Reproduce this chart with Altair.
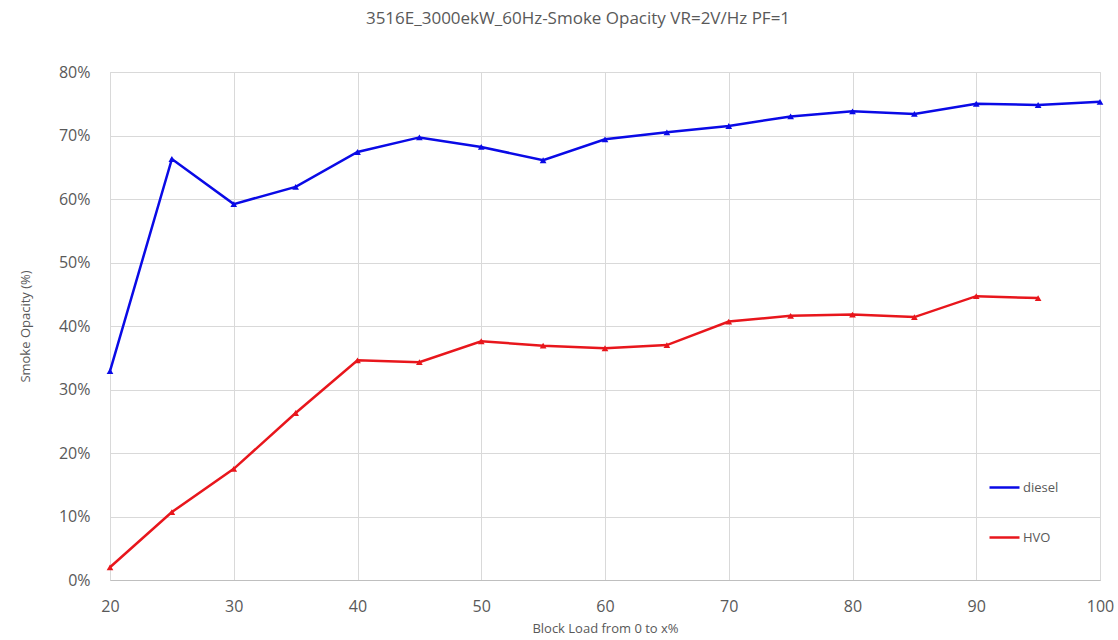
import altair as alt
import pandas as pd

loads = [20, 25, 30, 35, 40, 45, 50, 55, 60, 65, 70, 75, 80, 85, 90, 95, 100]
diesel = [32.9, 66.3, 59.2, 61.9, 67.4, 69.7, 68.2, 66.1, 69.4, 70.5, 71.5, 73.0, 73.8, 73.4, 75.0, 74.8, 75.3]
hvo_loads = [20, 25, 30, 35, 40, 45, 50, 55, 60, 65, 70, 75, 80, 85, 90, 95]
hvo = [2.0, 10.7, 17.5, 26.3, 34.6, 34.3, 37.6, 36.9, 36.5, 37.0, 40.7, 41.6, 41.8, 41.4, 44.7, 44.4]

series_names = ["diesel", "HVO"]
series_colors = ["#0a0ae6", "#e8161c"]

rows = []
for x, v in zip(loads, diesel):
    rows.append({"load": x, "opacity": v / 100, "series": "diesel"})
for x, v in zip(hvo_loads, hvo):
    rows.append({"load": x, "opacity": v / 100, "series": "HVO"})
df = pd.DataFrame(rows)

FONT = "Open Sans"
GREY = "#595959"

color = alt.Color(
    "series:N",
    scale=alt.Scale(domain=series_names, range=series_colors),
    legend=alt.Legend(
        title=None,
        orient="none",
        legendX=878,
        legendY=399,
        symbolType="stroke",
        symbolSize=900,
        symbolStrokeWidth=2.5,
        rowPadding=26,
        labelFontSize=13,
        labelColor=GREY,
        labelFont=FONT,
        labelOffset=2,
    ),
)

x = alt.X(
    "load:Q",
    scale=alt.Scale(domain=[20, 100], nice=False, zero=False),
    axis=alt.Axis(
        title="Block Load from 0 to x%",
        values=[20, 30, 40, 50, 60, 70, 80, 90, 100],
        titleFontSize=13,
        titleFontWeight="normal",
        titleColor=GREY,
        titleFont=FONT,
        titlePadding=8,
        labelFontSize=16,
        labelColor=GREY,
        labelFont=FONT,
        labelPadding=18,
        labelFlush=False,
        labelBound=False,
        ticks=False,
        domainColor="#bfbfbf",
        gridColor="#d9d9d9",
    ),
)
y = alt.Y(
    "opacity:Q",
    scale=alt.Scale(domain=[0, 0.8], nice=False),
    axis=alt.Axis(
        title="Smoke Opacity (%)",
        format=".0%",
        values=[0, 0.1, 0.2, 0.3, 0.4, 0.5, 0.6, 0.7, 0.8],
        titleFontSize=13,
        titleFontWeight="normal",
        titleColor=GREY,
        titleFont=FONT,
        titlePadding=26,
        labelFontSize=16,
        labelColor=GREY,
        labelFont=FONT,
        labelPadding=20,
        ticks=False,
        domain=False,
        gridColor="#d9d9d9",
    ),
)

line = alt.Chart(df).mark_line(strokeWidth=2.5).encode(x=x, y=y, color=color)
pts = alt.Chart(df).mark_point(filled=True, shape="triangle-up", size=45, opacity=1).encode(
    x=x, y=y, color=alt.Color("series:N", scale=alt.Scale(domain=series_names, range=series_colors), legend=None)
)

chart = (
    alt.layer(line, pts)
    .properties(
        width=990,
        height=508,
        title=alt.Title(
            "3516E_3000ekW_60Hz-Smoke Opacity VR=2V/Hz PF=1",
            fontSize=17,
            fontWeight="normal",
            color=GREY,
            font=FONT,
            anchor="middle",
            dx=-27,
            offset=36,
        ),
        autosize=alt.AutoSizeParams(type="none"),
        padding={"left": 110, "top": 72, "right": 18, "bottom": 60},
        background="white",
    )
    .configure_view(stroke="#d9d9d9", strokeWidth=1)
)

chart.save("out.html", embed_options={"renderer": "svg", "actions": False})
